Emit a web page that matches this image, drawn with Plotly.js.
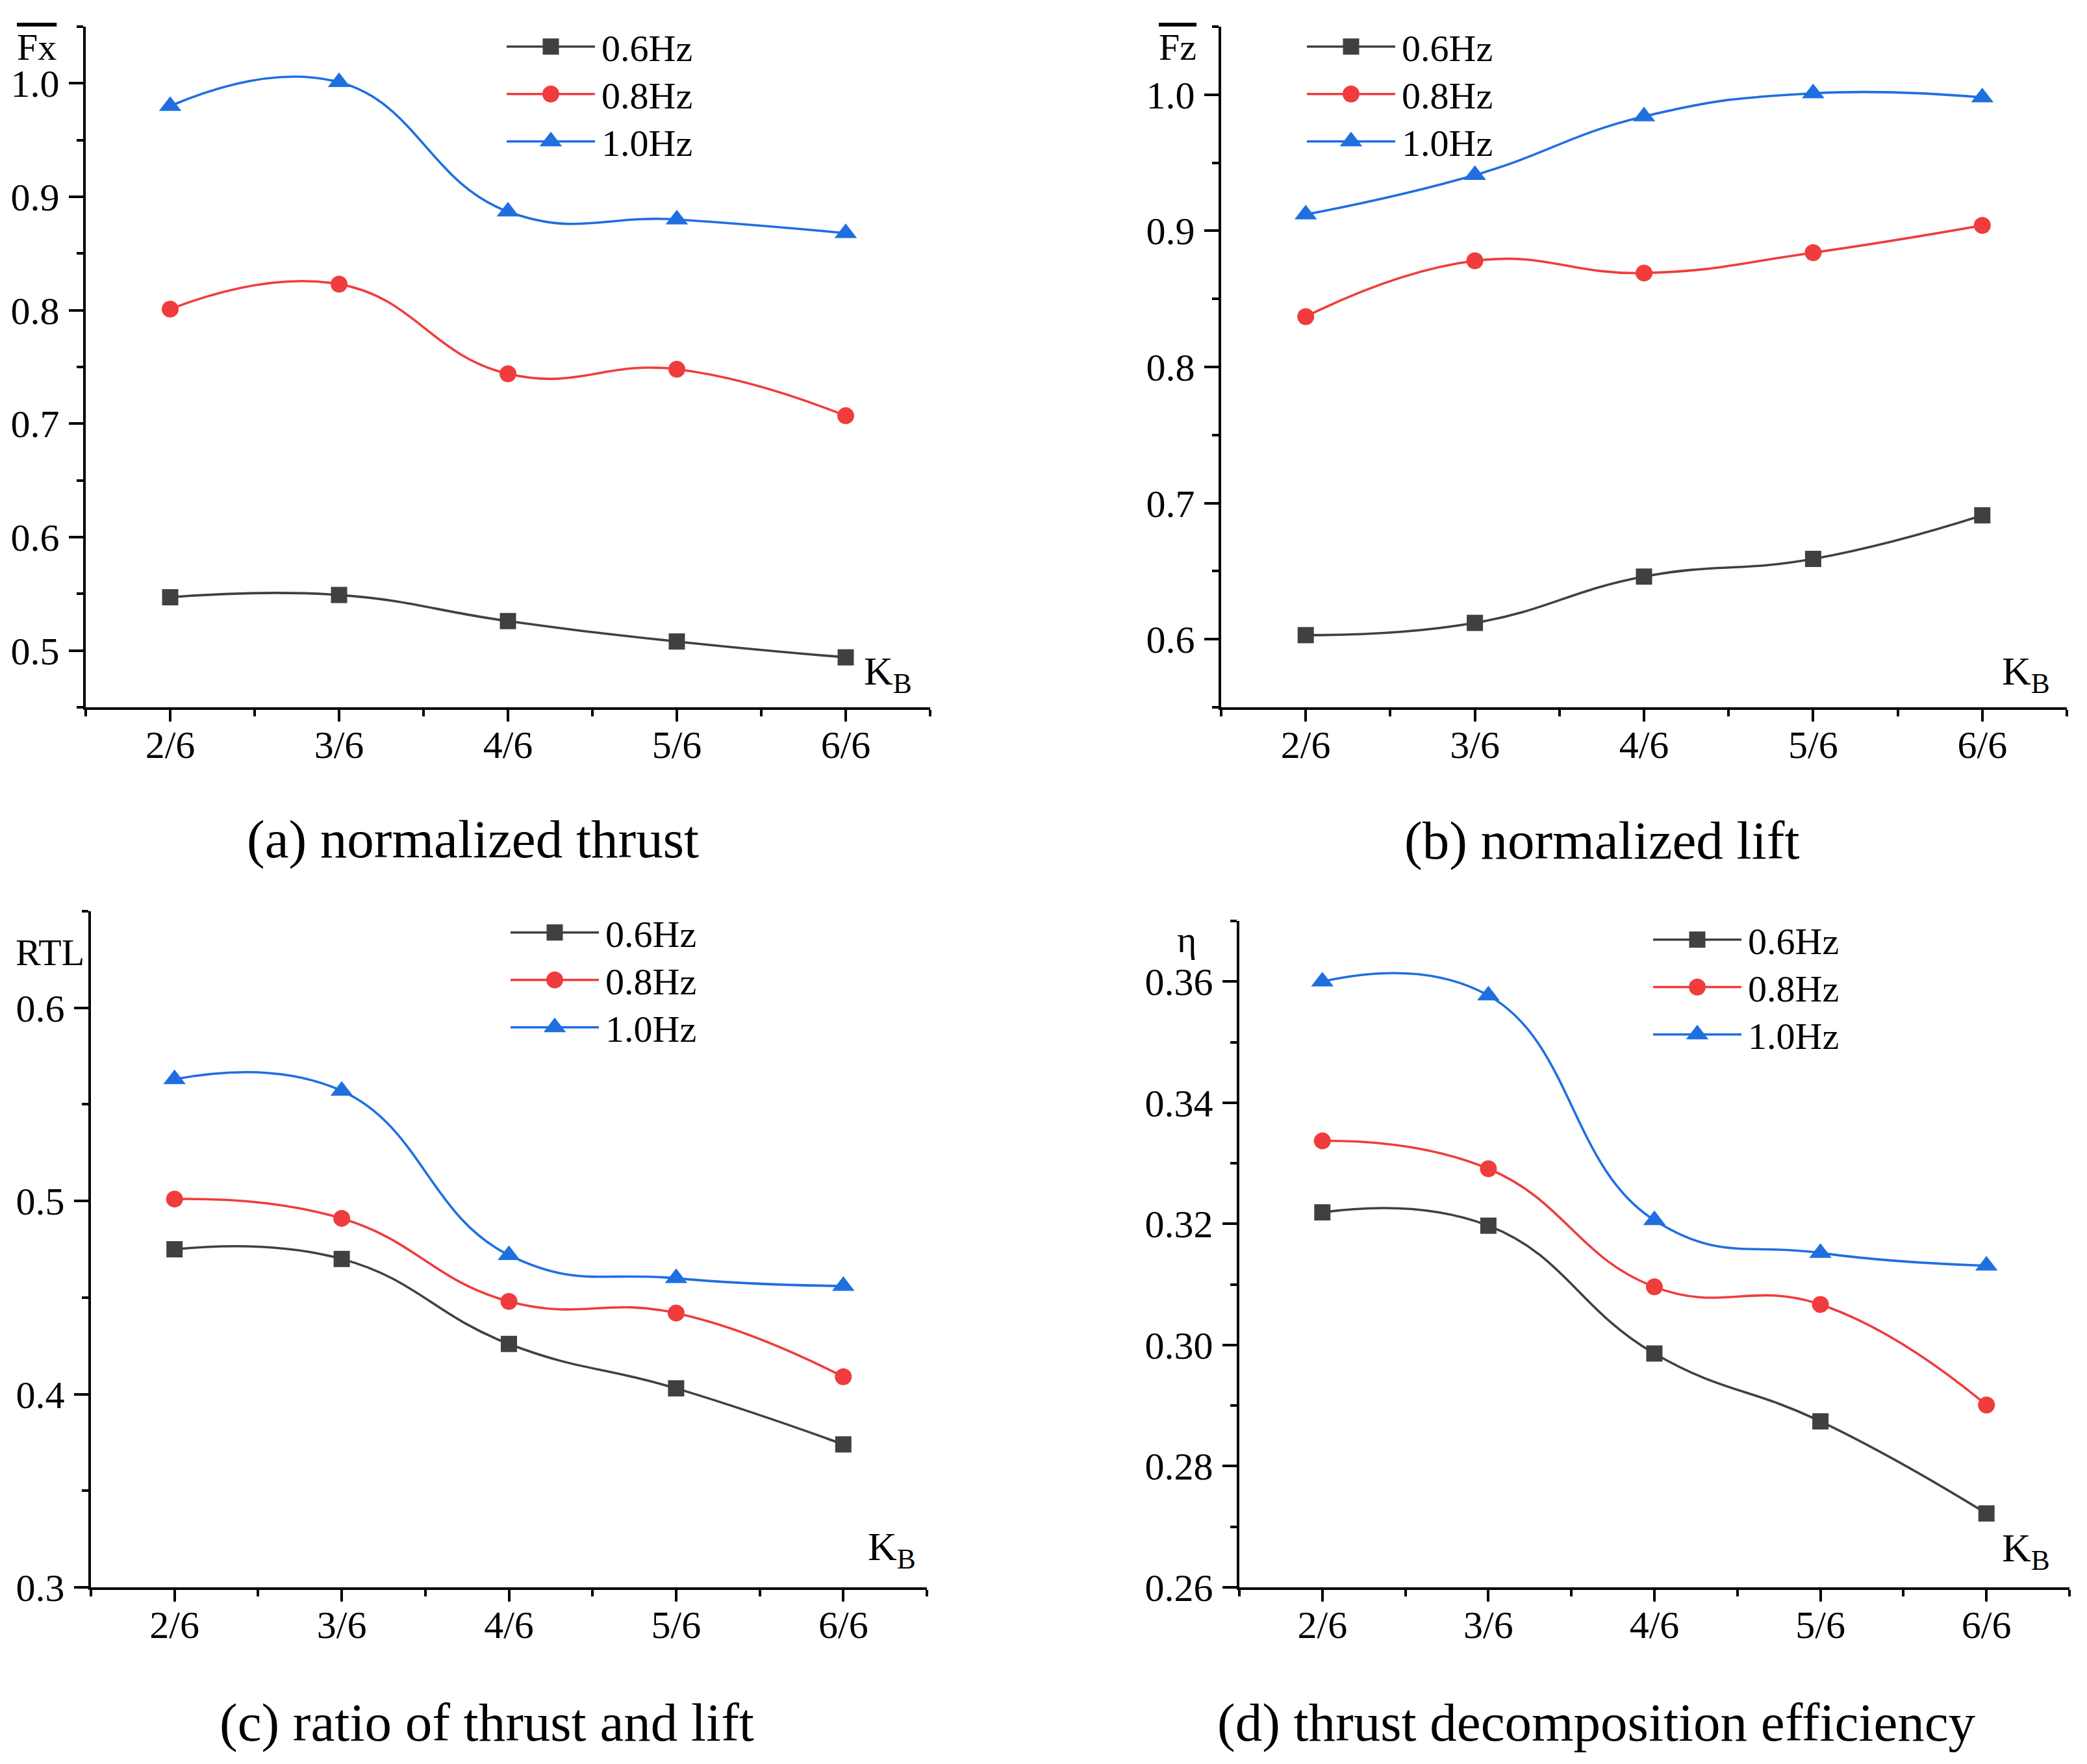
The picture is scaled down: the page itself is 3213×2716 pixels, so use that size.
<!DOCTYPE html>
<html><head><meta charset="utf-8">
<script src="https://cdn.plot.ly/plotly-3.0.1.min.js"></script>
<style>
html,body{margin:0;padding:0;background:#fff}
body{width:3213px;height:2716px}
#wrap{width:1607px;height:1358px;transform:scale(2);transform-origin:0 0}
</style></head><body><div id="wrap"></div>
<script>
// ---------------- data ----------------
const kb = [2, 3, 4, 5, 6];
const kbLabels = ['2/6', '3/6', '4/6', '5/6', '6/6'];
const seriesNames = ['0.6Hz', '0.8Hz', '1.0Hz'];

const thrust06 = [0.547, 0.549, 0.526, 0.508, 0.494];
const thrust08 = [0.801, 0.823, 0.744, 0.748, 0.707];
const thrust10 = [0.980, 1.001, 0.887, 0.880, 0.868];

const lift06 = [0.603, 0.612, 0.646, 0.659, 0.691];
const lift08 = [0.837, 0.878, 0.869, 0.884, 0.904];
const lift10 = [0.912, 0.941, 0.984, 1.001, 0.998];

const rtl06 = [0.475, 0.470, 0.426, 0.403, 0.374];
const rtl08 = [0.501, 0.491, 0.448, 0.442, 0.409];
const rtl10 = [0.563, 0.557, 0.472, 0.460, 0.456];

const eta06 = [0.3219, 0.3197, 0.2986, 0.2874, 0.2722];
const eta08 = [0.3337, 0.3291, 0.3096, 0.3067, 0.2901];
const eta10 = [0.3600, 0.3577, 0.3206, 0.3152, 0.3131];

const captions = ['(a) normalized thrust', '(b) normalized lift', '(c) ratio of thrust and lift', '(d) thrust decomposition efficiency'];

// ---------------- layout helpers (reference pixel units) ----------------
const W = 3214, H = 2716;
const fx = p => p / W;
const fy = p => 1 - p / H;
const FONT = 'Liberation Serif, Times New Roman, serif';
const colors = ['#404040', '#f03c3c', '#1f6fe0'];
const symbols = ['square', 'circle', 'triangle-up'];
const msizes = [12.5, 13, 15];

const panels = [
  {data: [thrust06, thrust08, thrust10], xd: [132, 1432], yd: [41, 1089], range: [0.45, 1.05], dtick: 0.1, minor: 0.05, fmt: '.1f'},
  {data: [lift06, lift08, lift10], xd: [1880, 3182], yd: [41, 1089], range: [0.55, 1.05], dtick: 0.1, minor: 0.05, fmt: '.1f'},
  {data: [rtl06, rtl08, rtl10], xd: [140, 1427], yd: [1403, 2444], range: [0.3, 0.65], dtick: 0.1, minor: 0.05, fmt: '.1f'},
  {data: [eta06, eta08, eta10], xd: [1908, 3186], yd: [1418, 2444], range: [0.26, 0.37], dtick: 0.02, minor: 0.01, fmt: '.2f'}
];
// legend line start x and first row centre y; rows are spaced by rowGap
const legendPos = [[770, 72], [2002, 72], [776, 1436], [2535, 1447]];
const rowGap = 73;
const capPos = [[728, 1293], [2466, 1295], [750, 2652], [2457, 2652]];
const kbPos = [[1408, 1038], [3160, 1038], [1413, 2386], [3160, 2387]];

const tickFont = {family: FONT, size: 30, color: '#000'};
const traces = [];
const layout = {
  width: 1607, height: 1358,
  margin: {l: 0, r: 0, t: 0, b: 0},
  paper_bgcolor: '#fff', plot_bgcolor: 'rgba(0,0,0,0)',
  font: {family: FONT, color: '#000'},
  annotations: [],
  showlegend: true
};

panels.forEach((p, i) => {
  const n = i + 1;
  const xk = 'x' + (n === 1 ? '' : n), yk = 'y' + (n === 1 ? '' : n);
  p.data.forEach((vals, s) => {
    const ln = i * 3 + s + 1;
    const legk = 'legend' + (ln === 1 ? '' : ln);
    traces.push({
      x: kb, y: vals, xaxis: xk, yaxis: yk, legend: legk,
      name: seriesNames[s], mode: 'lines+markers', type: 'scatter',
      line: {shape: 'spline', smoothing: 1.3, width: 1.8, color: colors[s]},
      marker: {symbol: symbols[s], size: msizes[s], color: colors[s], line: {width: 0}},
      hoverinfo: 'skip'
    });
    layout[legk] = {
      x: fx(legendPos[i][0]), y: fy(legendPos[i][1] + s * rowGap), xanchor: 'left', yanchor: 'middle',
      bgcolor: 'rgba(0,0,0,0)', borderwidth: 0, itemwidth: 68,
      font: {family: FONT, size: 29, color: '#000'}
    };
  });
  layout['xaxis' + (n === 1 ? '' : n)] = {
    domain: [fx(p.xd[0]), fx(p.xd[1])], anchor: yk, range: [1.5, 6.5],
    tickmode: 'array', tickvals: kb, ticktext: kbLabels,
    ticks: 'outside', ticklen: 9, tickwidth: 2, tickcolor: '#000',
    showline: true, linewidth: 2.2, linecolor: '#000', showgrid: false, zeroline: false,
    tickfont: tickFont, ticklabelstandoff: -8,
    minor: {tickmode: 'linear', tick0: 1.5, dtick: 1, ticks: 'outside', ticklen: 5, tickwidth: 2, tickcolor: '#000', showgrid: false}
  };
  layout['yaxis' + (n === 1 ? '' : n)] = {
    domain: [fy(p.yd[1]), fy(p.yd[0])], anchor: xk, range: p.range,
    tickmode: 'linear', tick0: 0, dtick: p.dtick, tickformat: p.fmt,
    ticks: 'outside', ticklen: 11, tickwidth: 2, tickcolor: '#000',
    showline: true, linewidth: 2.2, linecolor: '#000', showgrid: false, zeroline: false,
    tickfont: tickFont, ticklabelstandoff: 1,
    minor: {tickmode: 'linear', tick0: 0, dtick: p.minor, ticks: 'outside', ticklen: 5, tickwidth: 2, tickcolor: '#000', showgrid: false}
  };
  layout.annotations.push({
    xref: 'paper', yref: 'paper', x: fx(capPos[i][0]), y: fy(capPos[i][1]),
    xanchor: 'center', yanchor: 'middle', showarrow: false, text: captions[i],
    font: {family: FONT, size: 41.5, color: '#000'}
  });
  layout.annotations.push({
    xref: 'paper', yref: 'paper', x: fx(kbPos[i][0]), y: fy(kbPos[i][1]),
    xanchor: 'right', yanchor: 'middle', showarrow: false, text: 'K<sub>B</sub>',
    font: {family: FONT, size: 31, color: '#000'}
  });
});

const axisLabels = [
  {text: '<span style="text-decoration:overline">Fx</span>', x: 57, y: 72},
  {text: '<span style="text-decoration:overline">Fz</span>', x: 1813, y: 72},
  {text: 'RTL', x: 77, y: 1466},
  {text: 'η', x: 1827, y: 1446}
];
axisLabels.forEach(a => layout.annotations.push({
  xref: 'paper', yref: 'paper', x: fx(a.x), y: fy(a.y), xanchor: 'center', yanchor: 'middle',
  showarrow: false, text: a.text, font: {family: FONT, size: 29, color: '#000'}
}));

Plotly.newPlot('wrap', traces, layout, {staticPlot: true, displayModeBar: false});
</script></body></html>
